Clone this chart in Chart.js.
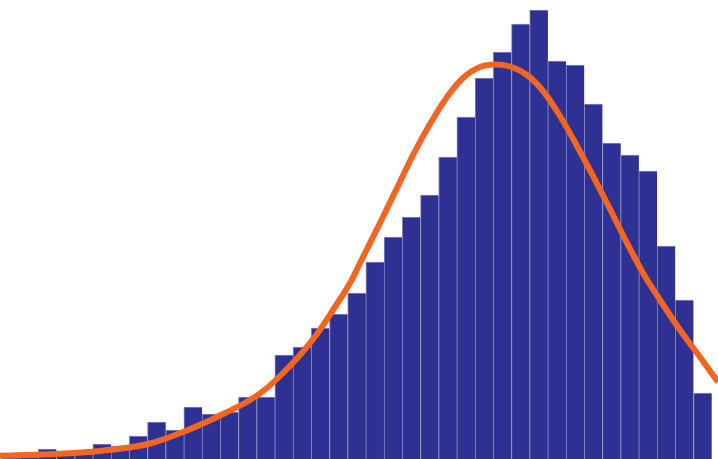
<!DOCTYPE html>
<html>
<head>
<meta charset="utf-8">
<script src="https://cdn.jsdelivr.net/npm/chart.js@4/dist/chart.umd.min.js"></script>
<style>
  html, body { margin: 0; padding: 0; background: #ffffff; }
  #wrap { width: 718px; height: 459px; }
</style>
</head>
<body>
<div id="wrap"><canvas id="histChart" width="718" height="459"></canvas></div>
<script>
// histogram counts, one per bin (bin i covers [i, i+1))
const binCounts = [
    1, 2, 10, 4, 5, 15, 13, 23, 37, 29,
    52, 45, 47, 62, 62, 104, 112, 131, 145, 166,
    197, 222, 242, 264, 302, 342, 381, 407, 435, 449,
    398, 394, 355, 316, 304, 288, 213, 159, 66
];

// fitted density curve (x in bin units)
const curveX = [
    -0.104, 2.643, 5.390, 8.137, 9.951, 11.819, 13.632, 14.566, 15.445, 16.379,
    17.313, 18.192, 19.126, 19.841, 20.775, 21.709, 22.588, 23.522, 24.456, 25.335,
    26.269, 27.093, 27.917, 28.851, 29.731, 30.665, 31.599, 32.478, 33.412, 34.346,
    35.225, 36.159, 37.258, 38.357, 39.346
];
const curveY = [
    3.3, 4.8, 8, 15.5, 27, 42, 59, 71, 86, 104,
    125, 149, 176, 202, 236, 271, 304, 335, 362, 381,
    392, 394.5, 392.5, 384, 368, 343, 313, 283, 250, 216,
    186, 159, 129, 102, 77
];

const barData = binCounts.map((c, i) => ({ x: i + 0.5, y: c }));
const curveData = curveX.map((x, i) => ({ x: x, y: curveY[i] }));

document.addEventListener('DOMContentLoaded', function() {
    const ctx = document.getElementById('histChart').getContext('2d');
    new Chart(ctx, {
        type: 'bar',
        data: {
            datasets: [
                {
                    type: 'line',
                    label: 'Fit',
                    data: curveData,
                    borderColor: '#f26522',
                    borderWidth: 6,
                    pointRadius: 0,
                    fill: false,
                    cubicInterpolationMode: 'monotone',
                    order: 0
                },
                {
                    label: 'Counts',
                    data: barData,
                    backgroundColor: '#2e3192',
                    borderColor: '#8486c6',
                    borderWidth: { top: 1, left: 1, right: 0, bottom: 0 },
                    borderSkipped: false,
                    barPercentage: 1,
                    categoryPercentage: 1,
                    order: 1
                }
            ]
        },
        options: {
            responsive: false,
            animation: false,
            layout: { padding: 0 },
            scales: {
                x: {
                    type: 'linear',
                    display: false,
                    offset: false,
                    grid: { offset: false },
                    min: -0.104,
                    max: 39.346
                },
                y: {
                    display: false,
                    min: 0,
                    max: 459
                }
            },
            plugins: {
                legend: { display: false },
                tooltip: { enabled: false }
            }
        }
    });
});
</script>
</body>
</html>
